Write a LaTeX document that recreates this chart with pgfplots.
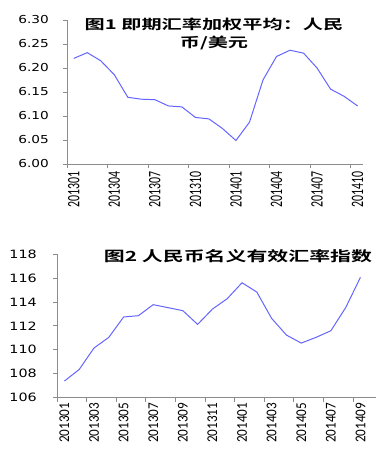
\documentclass[border=0pt]{standalone}
\usepackage{fontspec}
\usepackage{pgfplots}
\pgfplotsset{compat=1.18}
\newfontfamily\yfont[FakeStretch=1.25]{DejaVu Sans}
\newfontfamily\xfontA[FakeStretch=0.68]{Carlito}
\newfontfamily\xfontB[FakeStretch=0.88]{Carlito}
\newfontfamily\cjk[FakeStretch=1.5]{Noto Sans CJK SC Bold}
\definecolor{ln}{RGB}{100,100,255}
\definecolor{ax}{RGB}{140,140,140}
\pgfplotstableread{
x y
0 6.220
1 6.232
2 6.215
3 6.186
4 6.139
5 6.135
6 6.134
7 6.121
8 6.119
9 6.097
10 6.094
11 6.074
12 6.049
13 6.087
14 6.175
15 6.224
16 6.237
17 6.231
18 6.200
19 6.156
20 6.141
21 6.121
}\tabA
\pgfplotstableread{
x y
0 107.39
1 108.36
2 110.15
3 111.04
4 112.74
5 112.85
6 113.77
7 113.52
8 113.27
9 112.12
10 113.40
11 114.27
12 115.60
13 114.82
14 112.62
15 111.23
16 110.56
17 111.04
18 111.59
19 113.52
20 116.05
}\tabB
\pgfplotsset{
  mystyle/.style={
    scale only axis,
    anchor=south west,
    axis x line=bottom, axis y line=left,
    axis line style={ax,-,line width=0.8pt},
    tick align=outside, major tick length=4bp,
    every tick/.style={ax,line width=0.8pt},
    xticklabels={},
    extra x tick style={major tick length=0pt},
    xticklabel style={rotate=90, anchor=east, inner sep=0pt},
    yticklabel style={anchor=east, inner sep=0pt},
    /pgf/number format/assume math mode=true,
    clip=false,
  }
}
\begin{document}
\begin{tikzpicture}
\useasboundingbox (0,0) rectangle (389bp,-463bp);
\begin{axis}[mystyle,
  at={(67bp,-164bp)}, width=296bp, height=144bp,
  xmin=-0.5, xmax=21.4, ymin=6.0, ymax=6.3,
  xtick={-0.5,2.5,...,20.5},
  extra x ticks={0,3,...,21},
  extra x tick labels={201301,201304,201307,201310,201401,201404,201407,201410},
  ytick={6.00,6.05,...,6.31},
  xticklabel shift=7bp,
  yticklabel shift=14bp,
  xticklabel style={font=\xfontA\fontsize{17.5}{17.5}\selectfont},
  yticklabel style={font=\yfont\fontsize{11}{11}\selectfont,
    /pgf/number format/.cd, fixed, fixed zerofill, precision=2},
]
\addplot[ln, line width=1pt] table[x=x,y=y] {\tabA};
\end{axis}
\begin{axis}[mystyle,
  at={(57bp,-397.7bp)}, width=319bp, height=143.7bp,
  xmin=-0.5, xmax=21.05, ymin=106, ymax=118,
  xtick={-0.5,1.5,...,19.5},
  extra x ticks={0,2,...,20},
  extra x tick labels={201301,201303,201305,201307,201309,201311,201401,201403,201405,201407,201409},
  ytick={106,108,...,118},
  xticklabel shift=5bp,
  yticklabel shift=16bp,
  xticklabel style={font=\xfontB\fontsize{15}{15}\selectfont},
  yticklabel style={font=\yfont\fontsize{11.5}{11.5}\selectfont},
]
\addplot[ln, line width=1pt] table[x=x,y=y] {\tabB};
\end{axis}
\node[font=\cjk\fontsize{13.5}{18}\selectfont, align=center] at (214bp,-34bp) {图1 即期汇率加权平均：人民\\币/美元};
\node[font=\cjk\fontsize{14}{14}\selectfont] at (238bp,-256bp) {图2 人民币名义有效汇率指数};
\end{tikzpicture}
\end{document}
